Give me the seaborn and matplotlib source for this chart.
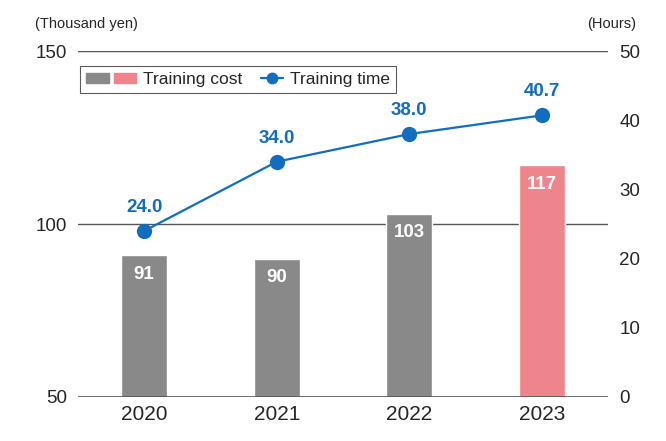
import matplotlib.pyplot as plt
import seaborn as sns
import numpy as np
import pandas as pd
from matplotlib.patches import Patch
from matplotlib.lines import Line2D
from matplotlib.legend_handler import HandlerTuple, HandlerLine2D

# Data
years = ["2020", "2021", "2022", "2023"]
training_cost = [91, 90, 103, 117]
training_time = [24.0, 34.0, 38.0, 40.7]
bar_colors = ["#898989", "#898989", "#898989", "#ee858d"]
line_color = "#136dbf"


class ShortLine(HandlerLine2D):
    # draw the line handle shorter, pushed to the right of its slot
    def create_artists(self, legend, orig_handle, xdescent, ydescent, width,
                       height, fontsize, trans):
        short = 1.29 * fontsize
        return super().create_artists(legend, orig_handle, xdescent - (width - short),
                                      ydescent, short, height, fontsize, trans)


sns.set_style("white")
plt.rcParams["font.family"] = ["Liberation Sans Narrow", "Liberation Sans", "DejaVu Sans"]

df = pd.DataFrame({"year": years, "cost": training_cost, "time": training_time})

fig = plt.figure(figsize=(6.66, 4.41), dpi=100)
ax = fig.add_axes([0.117, 0.0998, 0.796, 0.7845])

sns.barplot(data=df, x="year", y="cost", hue="year", palette=bar_colors,
            saturation=1, width=0.35, legend=False, ax=ax, bottom=0)
ax.set_ylim(50, 150)
ax.set_xlim(-0.5, 3.5)
ax.set_yticks([50, 100, 150])
for y in [100, 150]:
    ax.axhline(y, color="#555555", lw=1.0, zorder=0)
ax.axhline(50, color="#555555", lw=1.2, zorder=3)
for s in ax.spines.values():
    s.set_visible(False)
ax.set_xlabel("")
ax.set_ylabel("")
ax.tick_params(axis="both", length=0, labelsize=13.5, pad=8)
ax.tick_params(axis="x", labelsize=15, pad=6)

for i, v in enumerate(training_cost):
    ax.text(i, v - 3, str(v), color="white", ha="center", va="top",
            fontsize=13.5, fontweight="bold")

ax2 = ax.twinx()
sns.lineplot(x=np.arange(len(years)), y=training_time, color=line_color,
             marker="o", markersize=11, markeredgewidth=0, lw=1.6, ax=ax2)
ax2.set_ylim(0, 50)
ax2.set_yticks(range(0, 51, 10))
for s in ax2.spines.values():
    s.set_visible(False)
ax2.tick_params(axis="y", length=0, labelsize=13.5, pad=8)
for i, v in enumerate(training_time):
    ax2.text(i, v + 2.2, f"{v:.1f}", color=line_color, ha="center", va="bottom",
             fontsize=13.5, fontweight="bold")

fig.text(0.053, 0.945, "(Thousand yen)", fontsize=10.5, ha="left", va="center",
         family=["Liberation Sans", "DejaVu Sans"])
fig.text(0.955, 0.945, "(Hours)", fontsize=10.5, ha="right", va="center",
         family=["Liberation Sans", "DejaVu Sans"])

line_handle = Line2D([], [], color=line_color, marker="o", markersize=8.5,
                     markeredgewidth=0, lw=1.6)
handles = [(Patch(color=bar_colors[0]), Patch(color=bar_colors[3])), line_handle]
leg = ax2.legend(handles, ["Training cost", "Training time"],
                 handler_map={tuple: HandlerTuple(ndivide=None, pad=0.29),
                              line_handle: ShortLine()},
                 loc="upper left", bbox_to_anchor=(0.004, 0.957), ncol=2,
                 borderaxespad=0, frameon=True, fancybox=False, edgecolor="#333333",
                 prop={"family": ["Liberation Sans", "DejaVu Sans"], "size": 12.5},
                 handlelength=2.9, handleheight=0.5, columnspacing=-0.5,
                 handletextpad=0.35, borderpad=0.35)
leg.get_frame().set_linewidth(0.8)

fig.savefig("out.png", dpi=100)
